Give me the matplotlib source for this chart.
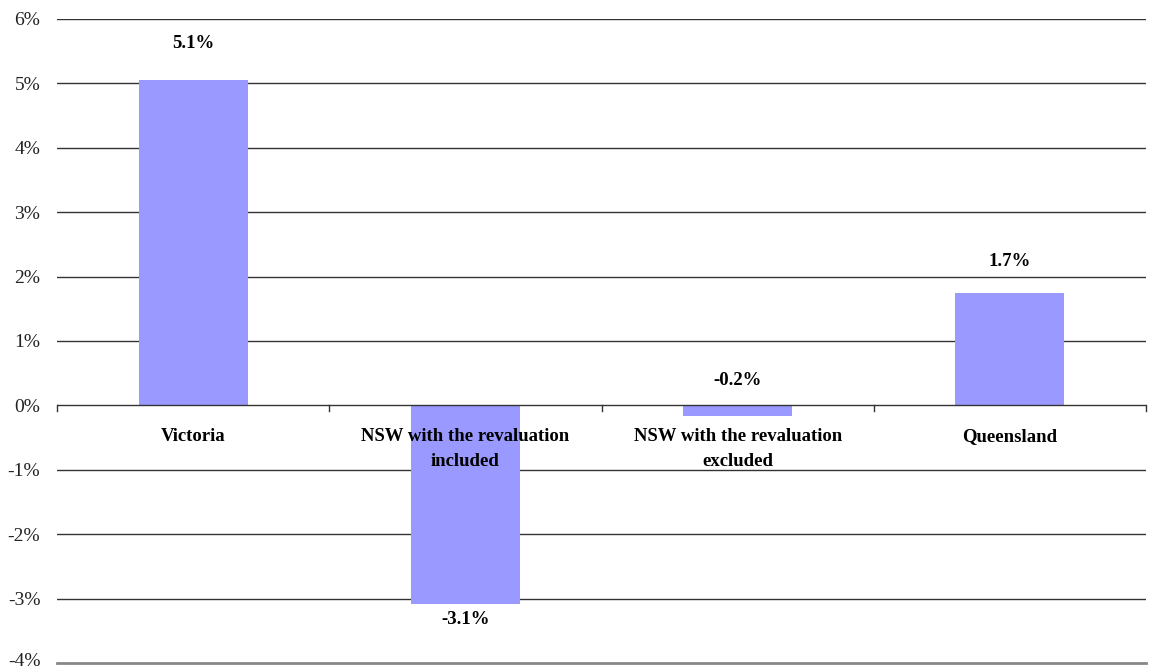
import matplotlib
matplotlib.use("Agg")
import matplotlib.pyplot as plt
import matplotlib.transforms as mtransforms
from matplotlib.ticker import FuncFormatter

# Growth by jurisdiction (percent)
categories = ["Victoria", "NSW with the revaluation\nincluded",
              "NSW with the revaluation\nexcluded", "Queensland"]
values = [5.06, -3.09, -0.17, 1.74]
y_ticks = [-4, -3, -2, -1, 0, 1, 2, 3, 4, 5, 6]

plt.rcParams["font.family"] = ["Liberation Serif", "DejaVu Serif"]

fig = plt.figure(figsize=(11.51, 6.70), dpi=100)
ax = fig.add_axes([57 / 1151, 7 / 670, (1146 - 57) / 1151, (663 - 19) / 670])

x = list(range(len(categories)))
ax.bar(x, values, width=0.4, color="#9999FF", zorder=3)

ax.set_xlim(-0.5, len(categories) - 0.5)
ax.set_ylim(min(y_ticks), max(y_ticks))
ax.set_yticks(y_ticks)
ax.yaxis.set_major_formatter(FuncFormatter(lambda v, p: f"{v:.0f}%"))
ax.tick_params(axis="y", length=0, labelsize=14, pad=12, colors="#222222")
ax.set_xticks([])

# Keep the lowest percentage label inside the figure
fig.canvas.draw()
low_label = ax.yaxis.get_major_ticks()[0].label1
low_label.set_transform(low_label.get_transform() +
                        mtransforms.ScaledTranslation(0, 4 / 100, fig.dpi_scale_trans))

# Horizontal gridlines
for t in y_ticks[1:]:
    if t != 0:
        ax.axhline(t, color="#333333", linewidth=1.0, zorder=1)

# Category axis at zero with boundary tick marks
ax.axhline(0, color="#333333", linewidth=1.0, zorder=4)
for b in [i - 0.5 for i in range(len(categories) + 1)]:
    ax.plot([b, b], [0, -0.09], color="#333333", linewidth=1.0, zorder=4,
            clip_on=False)

for side in ["left", "right", "top"]:
    ax.spines[side].set_visible(False)
ax.spines["bottom"].set_color("#888888")
ax.spines["bottom"].set_linewidth(2)

# Category names just below the zero line
for i, name in enumerate(categories):
    ax.annotate(name, xy=(i, 0), xytext=(0, -16.5), textcoords="offset points",
                ha="center", va="top", fontsize=13.5, fontweight="bold",
                linespacing=1.6, zorder=5)

# Value labels
label_offsets = [19.5, -4.5, 12, 16.5]
for i, v in enumerate(values):
    off = label_offsets[i]
    anchor = v if (v > 0 or off < 0) else 0
    ax.annotate(f"{v:.1f}%", xy=(i, anchor), xytext=(0, off),
                textcoords="offset points", ha="center",
                va="bottom" if off > 0 else "top",
                fontsize=13.5, fontweight="bold", zorder=5)

fig.savefig("out.png", dpi=100)
